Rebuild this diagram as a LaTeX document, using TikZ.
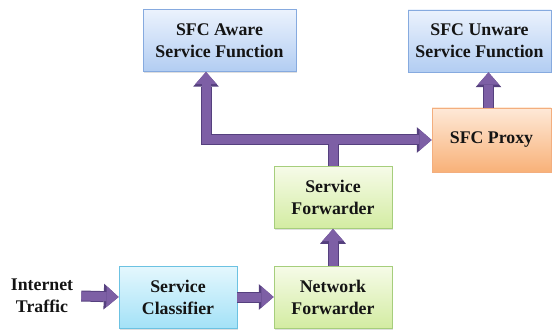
\documentclass[tikz,border=0pt]{standalone}
\usepackage{fontspec}
\setmainfont{Liberation Serif}
\usetikzlibrary{arrows.meta,shadows}
\definecolor{flowfill}{HTML}{7D5FA5}
\definecolor{flowedge}{HTML}{55407E}
\definecolor{bluetop}{HTML}{EBF2FD}
\definecolor{bluebot}{HTML}{B2CDF2}
\definecolor{blueedge}{HTML}{86AADF}
\definecolor{greentop}{HTML}{F6FBE8}
\definecolor{greenbot}{HTML}{D3ECA2}
\definecolor{greenedge}{HTML}{A6CE7C}
\definecolor{cyantop}{HTML}{E4F7FD}
\definecolor{cyanbot}{HTML}{A4E2F7}
\definecolor{cyanedge}{HTML}{6CC2E2}
\definecolor{orangetop}{HTML}{FEE9D8}
\definecolor{orangebot}{HTML}{F8B178}
\definecolor{orangeedge}{HTML}{F3AE7E}
\tikzset{headtip/.tip={Triangle[width=0pt 2.35, length=0pt 1.35, line width=0pt]}}
\begin{document}
\begin{tikzpicture}[x = 1pt, y = -1pt,
    label/.style={font=\fontsize{17.8}{22}\selectfont\bfseries, text=black!92, align=center},
    box/.style={label, draw, line width=0.8pt, inner sep=0pt, minimum height=62pt,
        drop shadow={opacity=0.25, shadow xshift=1pt, shadow yshift=-1.5pt}},
    sfbox/.style={box, draw=blueedge, top color=bluetop, bottom color=bluebot},
    fwbox/.style={box, draw=greenedge, top color=greentop, bottom color=greenbot, minimum width=118pt},
    flow/.style={draw=flowfill, line width=9pt, line join=miter, -headtip,
        preaction={draw=flowedge, line width=11pt}}]
    \useasboundingbox (0,0) rectangle (559,331);
    \node[sfbox, minimum width=153pt] (aware) at (219.5,40.5) {SFC Aware\\Service Function};
    \node[sfbox, minimum width=143pt] (unaware) at (479.5,41) {SFC Unware\\Service Function};
    \node[box, draw=orangeedge, top color=orangetop, bottom color=orangebot,
        minimum width=119pt, minimum height=64pt] (proxy) at (491.5,140) {SFC Proxy};
    \node[fwbox] (sfw) at (333,197.5) {Service\\Forwarder};
    \node[fwbox] (nfw) at (333,297) {Network\\Forwarder};
    \node[box, draw=cyanedge, top color=cyantop, bottom color=cyanbot,
        minimum width=118pt] (classifier) at (178,297) {Service\\Classifier};
    \node[label, inner sep=0pt, inner xsep=8pt] (traffic) at (42,296) {Internet\\Traffic};
    \coordinate (junction) at (206,140);

    \draw[flow] (traffic.east) -- (classifier.west);
    \draw[flow] (classifier.east) -- (nfw.west);
    \draw[flow] (nfw.north) -- (sfw.south);
    \draw[flow, headtip-headtip] (aware.south -| junction) |- (proxy.west);
    \draw[flow, -] (sfw.north) -- ([yshift=-4pt]sfw.north |- junction);
    \draw[flow] ([xshift=-3pt]proxy.north) -- ([xshift=-3pt]proxy.north |- unaware.south);
\end{tikzpicture}
\end{document}
